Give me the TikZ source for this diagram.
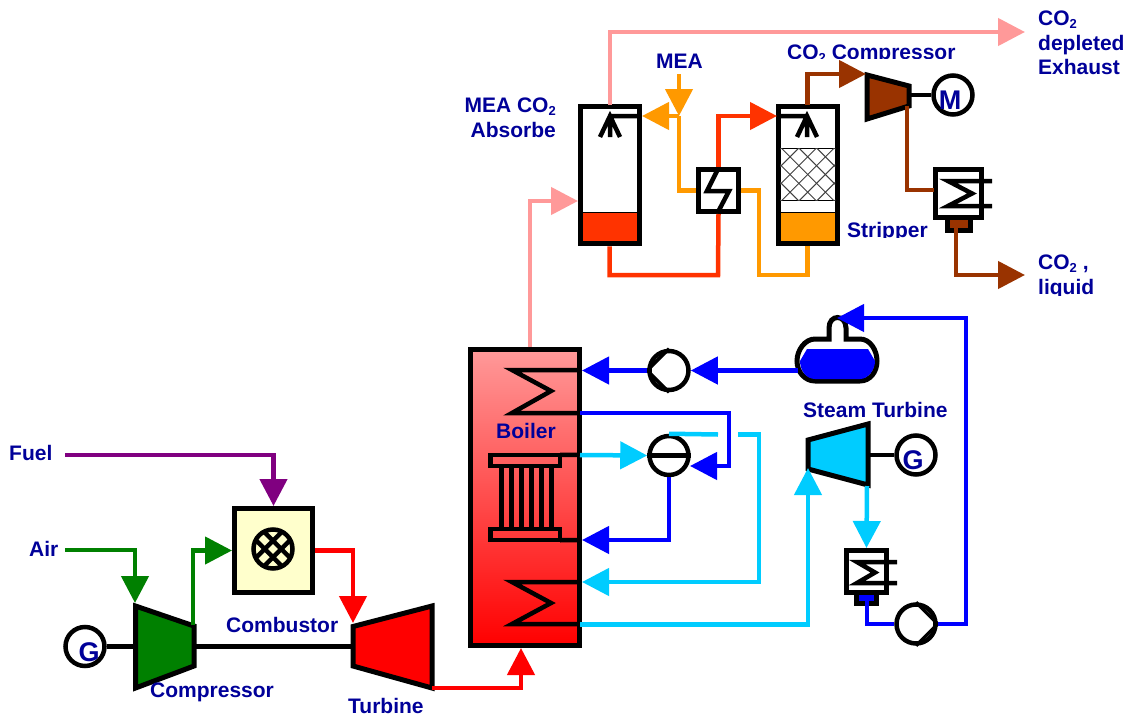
\documentclass[tikz,border=0pt]{standalone}
\usepackage{fontspec}
\setmainfont{Liberation Sans}
\usetikzlibrary{positioning,arrows.meta}
\definecolor{labelblue}{HTML}{000099}
\definecolor{fluepink}{HTML}{FF9999}
\definecolor{richred}{HTML}{FF3300}
\definecolor{leanorange}{HTML}{FF9900}
\definecolor{co2brown}{HTML}{993300}
\definecolor{steamblue}{HTML}{00CCFF}
\definecolor{waterblue}{HTML}{0000FF}
\definecolor{fuelpurple}{HTML}{800080}
\definecolor{airgreen}{HTML}{008000}
\definecolor{burncream}{HTML}{FFFFCC}
\newcommand{\cotwo}{CO\raisebox{-3pt}{\fontsize{13}{13}\selectfont 2}}

\begin{document}
\begin{tikzpicture}[x=1pt,y=-1pt]
\tikzstyle{unit}=[rectangle, draw=black, line width=5pt, fill=white, inner sep=0pt]
\tikzstyle{rotor}=[circle, draw=black, line width=4.5pt, fill=white, minimum size=39pt, inner sep=0pt]
\tikzstyle{machine}=[draw=black, line width=5pt]
\tikzstyle{connect}=[line width=4.5pt, -{Triangle[length=27pt,width=27pt]}]
\tikzstyle{pipe}=[line width=4.5pt]
\tikzstyle{vane}=[line width=3.5pt]
\tikzstyle{lbl}=[text=labelblue, font=\fontsize{21}{24.5}\selectfont\bfseries, inner sep=0pt, anchor=base west]
\tikzstyle{sym}=[text=labelblue, font=\fontsize{27}{27}\selectfont\bfseries, inner sep=0pt]
  \useasboundingbox (0,0) rectangle (1130,720);
  % gas turbine
  \node[rotor] (gleft) [label={[sym,xshift=4pt,yshift=-6pt]center:G}] at (85,646.5) { };
  \draw[machine, fill=airgreen] (135.5,606) -- (194,626) -- (194,666) -- (135.5,688) -- cycle;
  \draw[machine, fill=red] (353,626.5) -- (432,606) -- (432,688) -- (353,666) -- cycle;
  \node[unit, fill=burncream, minimum width=78pt, minimum height=84pt] (comb) at (273.5,550.5) { };
  \node[rotor, fill=burncream] (burner) at (273,549) { };
  \begin{scope}
    \clip (burner.center) circle (20);
    \foreach \d in {-8.3,8.3} {
      \draw[line width=4.5pt] ({273+\d-25},524) -- ++(50,50);
      \draw[line width=4.5pt] ({273+\d+25},524) -- ++(-50,50);
    }
  \end{scope}
  % boiler
  \node[unit, top color=fluepink, middle color=red!55!white, bottom color=red, minimum width=109pt, minimum height=296pt] (boiler) at (525,497.5) { };
  \node[rectangle, draw=black, line width=4.5pt, inner sep=0pt, minimum width=69.5pt, minimum height=11pt] (hdrtop) at (525,460.5) { };
  \node[rectangle, draw=black, line width=4.5pt, inner sep=0pt, minimum width=69.5pt, minimum height=11pt] (hdrbot) at (525,534.5) { };
  \foreach \x in {501,511,521,531,541,551}
    \draw[line width=5pt] (\x,468) -- (\x,527);
  \draw[pipe] (hdrtop.north east) ++(-2,2) -- (579,455);
  \draw[pipe] (hdrbot.south east) ++(-2,-2) -- (579,540);
  \draw[pipe] (579,370) -- (512,370) -- (551,391) -- (512,413) -- (579,413);
  \draw[pipe] (579,582) -- (512,582) -- (551,603) -- (512,624) -- (579,624);
  % steam cycle
  \node[rotor] (pump1) at (669,370.5) { };
  \node[rotor] (drum) [below=41.5pt of pump1] { };
  \node[rotor] (pump2) at (916,624) { };
  \draw[machine, fill=steamblue] (808,440) -- (868,424) -- (868,485) -- (808,469) -- cycle;
  \node[rotor] (gright) at (916,455) [label={[sym,xshift=-3pt,yshift=-5pt]center:G}] { };
  \node[unit, fill=waterblue, minimum width=20pt, minimum height=11pt] (hot2) at (866.5,598) { };
  \node[unit, minimum width=40pt, minimum height=42pt] (cond2) at (866.5,571.5) { };
  \draw[pipe] (897,562) -- (857,562) -- (875,572.5) -- (857,583) -- (897,583);
  \draw[vane] (pump1.north) -- (pump1.west) -- (pump1.south);
  \draw[vane] (pump2.north) -- (pump2.east) -- (pump2.south);
  \draw[pipe] (drum.west) -- (drum.east);
  \draw[line width=5pt, fill=white] (829,339) -- (829,328) .. controls (829,314) and (846,314) .. (846,328) -- (846,339) -- (860,339) .. controls (870,339) and (877,350) .. (877,361) .. controls (877,372) and (870,381) .. (860,381) -- (815,381) .. controls (805,381) and (797,372) .. (797,361) .. controls (797,350) and (805,339) .. (815,339) -- cycle;
  \fill[waterblue] (800,361) -- (807,349) -- (868,349) -- (875,361) .. controls (875,370) and (868,379) .. (860,379) -- (815,379) .. controls (806,379) and (800,370) .. (800,361) -- cycle;
  % capture plant
  \node[unit, minimum width=59pt, minimum height=137.5pt] (absorber) at (609.7,175) { };
  \node[unit, minimum width=59pt, minimum height=137.5pt] (stripper) [right=134pt of absorber] { };
  \node[rectangle, draw=black, line width=.6pt, fill=richred, inner sep=0pt, minimum width=54.5pt, minimum height=29pt] (absliq) at (absorber.center |- 0,226.5) { };
  \node[rectangle, draw=black, line width=.6pt, fill=leanorange, inner sep=0pt, minimum width=54.5pt, minimum height=29pt] (strliq) at (stripper.center |- 0,226.5) { };
  \node[rectangle, draw=black, line width=.6pt, fill=white, inner sep=0pt, minimum width=54.5pt, minimum height=52pt] (packing) at (stripper.center |- 0,174.5) { };
  \begin{scope}
    \clip (packing.north west) rectangle (packing.south east);
    \foreach \d in {-70.8,-53.1,...,70.8} {
      \draw[black!75, line width=1pt] ({807.7+\d-30},144.5) -- ++(60,60);
      \draw[black!75, line width=1pt] ({807.7+\d+30},144.5) -- ++(-60,60);
    }
  \end{scope}
  \draw[pipe] (641,116) -- (610,116) (600,137) -- (610,116) -- (620,137) (610,116) -- (610,137);
  \draw[pipe] (778,116) -- (807,116) (797,137) -- (807,116) -- (817,137) (807,116) -- (807,137);
  \node[unit, minimum width=40pt, minimum height=42pt] (hx) at (718.5,190.5) { };
  \draw[pipe] (718,169) -- (707,191) -- (729,191) -- (718,212);
  \draw[machine, fill=co2brown] (867,75) -- (909,86) -- (909,106) -- (867,119) -- cycle;
  \node[rotor] (motor) at (953,95) [label={[sym,xshift=-3pt,yshift=-5pt]center:M}] { };
  \node[unit, fill=co2brown, minimum width=23pt, minimum height=13pt] (hot1) at (959,224) { };
  \node[unit, minimum width=46pt, minimum height=48pt] (cond1) at (958.5,193.5) { };
  \draw[pipe] (992,181) -- (948,181) -- (972,193.5) -- (948,206) -- (992,206);
  % named ends of the connectors
  \coordinate (compw) at (134,646.5);
  \coordinate (compe) at (195,646.5);
  \coordinate (turbw) at (352,646.5);
  \coordinate (steame) at (869,455);
  \coordinate (co2e) at (910,95);
  \coordinate (fuelin) at (65,455);
  \coordinate (airin) at (65,550);
  \coordinate (compin) at (135,603);
  \coordinate (compout) at (193,625);
  \coordinate (turbin) at (353,623);
  \coordinate (turbout) at (432,688);
  \coordinate (boilin) at (521,648);
  \coordinate (fluegas) at (530,347);
  \coordinate (absin) at (578,201);
  \coordinate (absout) at (610,105);
  \coordinate (stackend) at (1025,32);
  \coordinate (meain) at (679,74);
  \coordinate (meajoin) at (679,116);
  \coordinate (absspray) at (642,116);
  \coordinate (strspray) at (777,116);
  \coordinate (richlow) at (718,275);
  \coordinate (leanlow) at (759,275);
  \coordinate (strout) at (807.5,105);
  \coordinate (co2in) at (866,74);
  \coordinate (co2out) at (907,106);
  \coordinate (condin) at (934,190);
  \coordinate (hot1out) at (956,226);
  \coordinate (liquidend) at (1025,275);
  \coordinate (tankout) at (798,370.5);
  \coordinate (tankin) at (837,318);
  \coordinate (bendup) at (966,624);
  \coordinate (coil1out) at (580,413);
  \coordinate (bendin) at (729,413);
  \coordinate (drumin) at (690,466);
  \coordinate (hdrtopout) at (580,455);
  \coordinate (hdrbotin) at (582,540);
  \coordinate (gapleft) at (718,434.5);
  \coordinate (gapright) at (738,434.5);
  \coordinate (bendsh) at (759,434.5);
  \coordinate (coil2in) at (582,582);
  \coordinate (coil2out) at (580,624.5);
  \coordinate (steamin) at (808,468);
  \coordinate (steamout) at (867,486);
  \coordinate (hot2out) at (867,601);
  % shafts
  \draw[pipe] (gleft) -- (compw);
  \draw[pipe] (compe) -- (turbw);
  \draw[pipe] (steame) -- (gright);
  \draw[pipe] (co2e) -- (motor);
  % connectors
  \draw[connect, fuelpurple] (fuelin) -| (comb.north);
  \draw[connect, airgreen] (airin) -| (compin);
  \draw[connect, airgreen] (compout) |- (comb.west);
  \draw[connect, red] (comb.east) -| (turbin);
  \draw[connect, red] (turbout) -| (boilin);
  \draw[connect, fluepink] (fluegas) |- (absin);
  \draw[connect, fluepink] (absout) |- (stackend);
  \draw[connect, leanorange] (meain) -- (meajoin);
  \draw[connect, leanorange] (meajoin) -- (absspray);
  \draw[pipe, leanorange] (meajoin) |- (hx.west);
  \draw[pipe, leanorange] (hx.east) -| (leanlow) -| (stripper.south);
  \draw[pipe, richred] (absorber.south) |- (richlow) -- (hx.south);
  \draw[connect, richred] (hx.north) |- (strspray);
  \draw[connect, co2brown] (strout) |- (co2in);
  \draw[pipe, co2brown] (co2out) |- (condin);
  \draw[connect, co2brown] (hot1out) |- (liquidend);
  \draw[connect, waterblue] (tankout) -- (pump1.east);
  \draw[connect, waterblue] (pump1.west) -- (pump1.west -| boiler.east);
  \draw[connect, waterblue] (coil1out) -- (bendin) |- (drumin);
  \draw[connect, steamblue] (hdrtopout) -- (drum.west);
  \draw[connect, waterblue] (drum.south) |- (hdrbotin);
  \draw[pipe, steamblue] (drum.north) -- (gapleft);
  \draw[connect, steamblue] (gapright) -- (bendsh) |- (coil2in);
  \draw[connect, steamblue] (coil2out) -| (steamin);
  \draw[connect, steamblue] (steamout) -- (cond2.north);
  \draw[pipe, waterblue] (hot2out) |- (pump2.west);
  \draw[connect, waterblue] (pump2.east) -- (bendup) |- (tankin);
  % labels
  \node[lbl] (fuel) at (9,460) {Fuel};
  \node[lbl] (air) at (29,556) {Air};
  \node[lbl] (complbl) at (150,697) {Compressor};
  \node[lbl] (comblbl) at (226,632) {Combustor};
  \node[lbl] (turblbl) at (348,713) {Turbine};
  \node[lbl] (boillbl) at (496,438) {Boiler};
  \node[lbl] (steamlbl) at (803,417) {Steam Turbine};
  \node[lbl] (mealbl) at (656,68) {MEA};
  \node[lbl, align=right, anchor=north east] (abslbl) at (556,98) {MEA \cotwo\\Absorbe};
  \node[lbl, align=left, anchor=north west] (stacklbl) at (1038,11) {\cotwo\\depleted\\Exhaust};
  \begin{scope}
    \clip (780,30) rectangle (965,58) (840,210) rectangle (935,237) (1030,250) rectangle (1130,295);
    \node[lbl] (co2lbl) at (787,59) {\cotwo\ Compressor};
    \node[lbl] (striplbl) at (847,237) {Stripper};
    \node[lbl, align=left, anchor=north west] (liqlbl) at (1038,255) {\cotwo\ ,\\liquid};
  \end{scope}
\end{tikzpicture}
\end{document}
